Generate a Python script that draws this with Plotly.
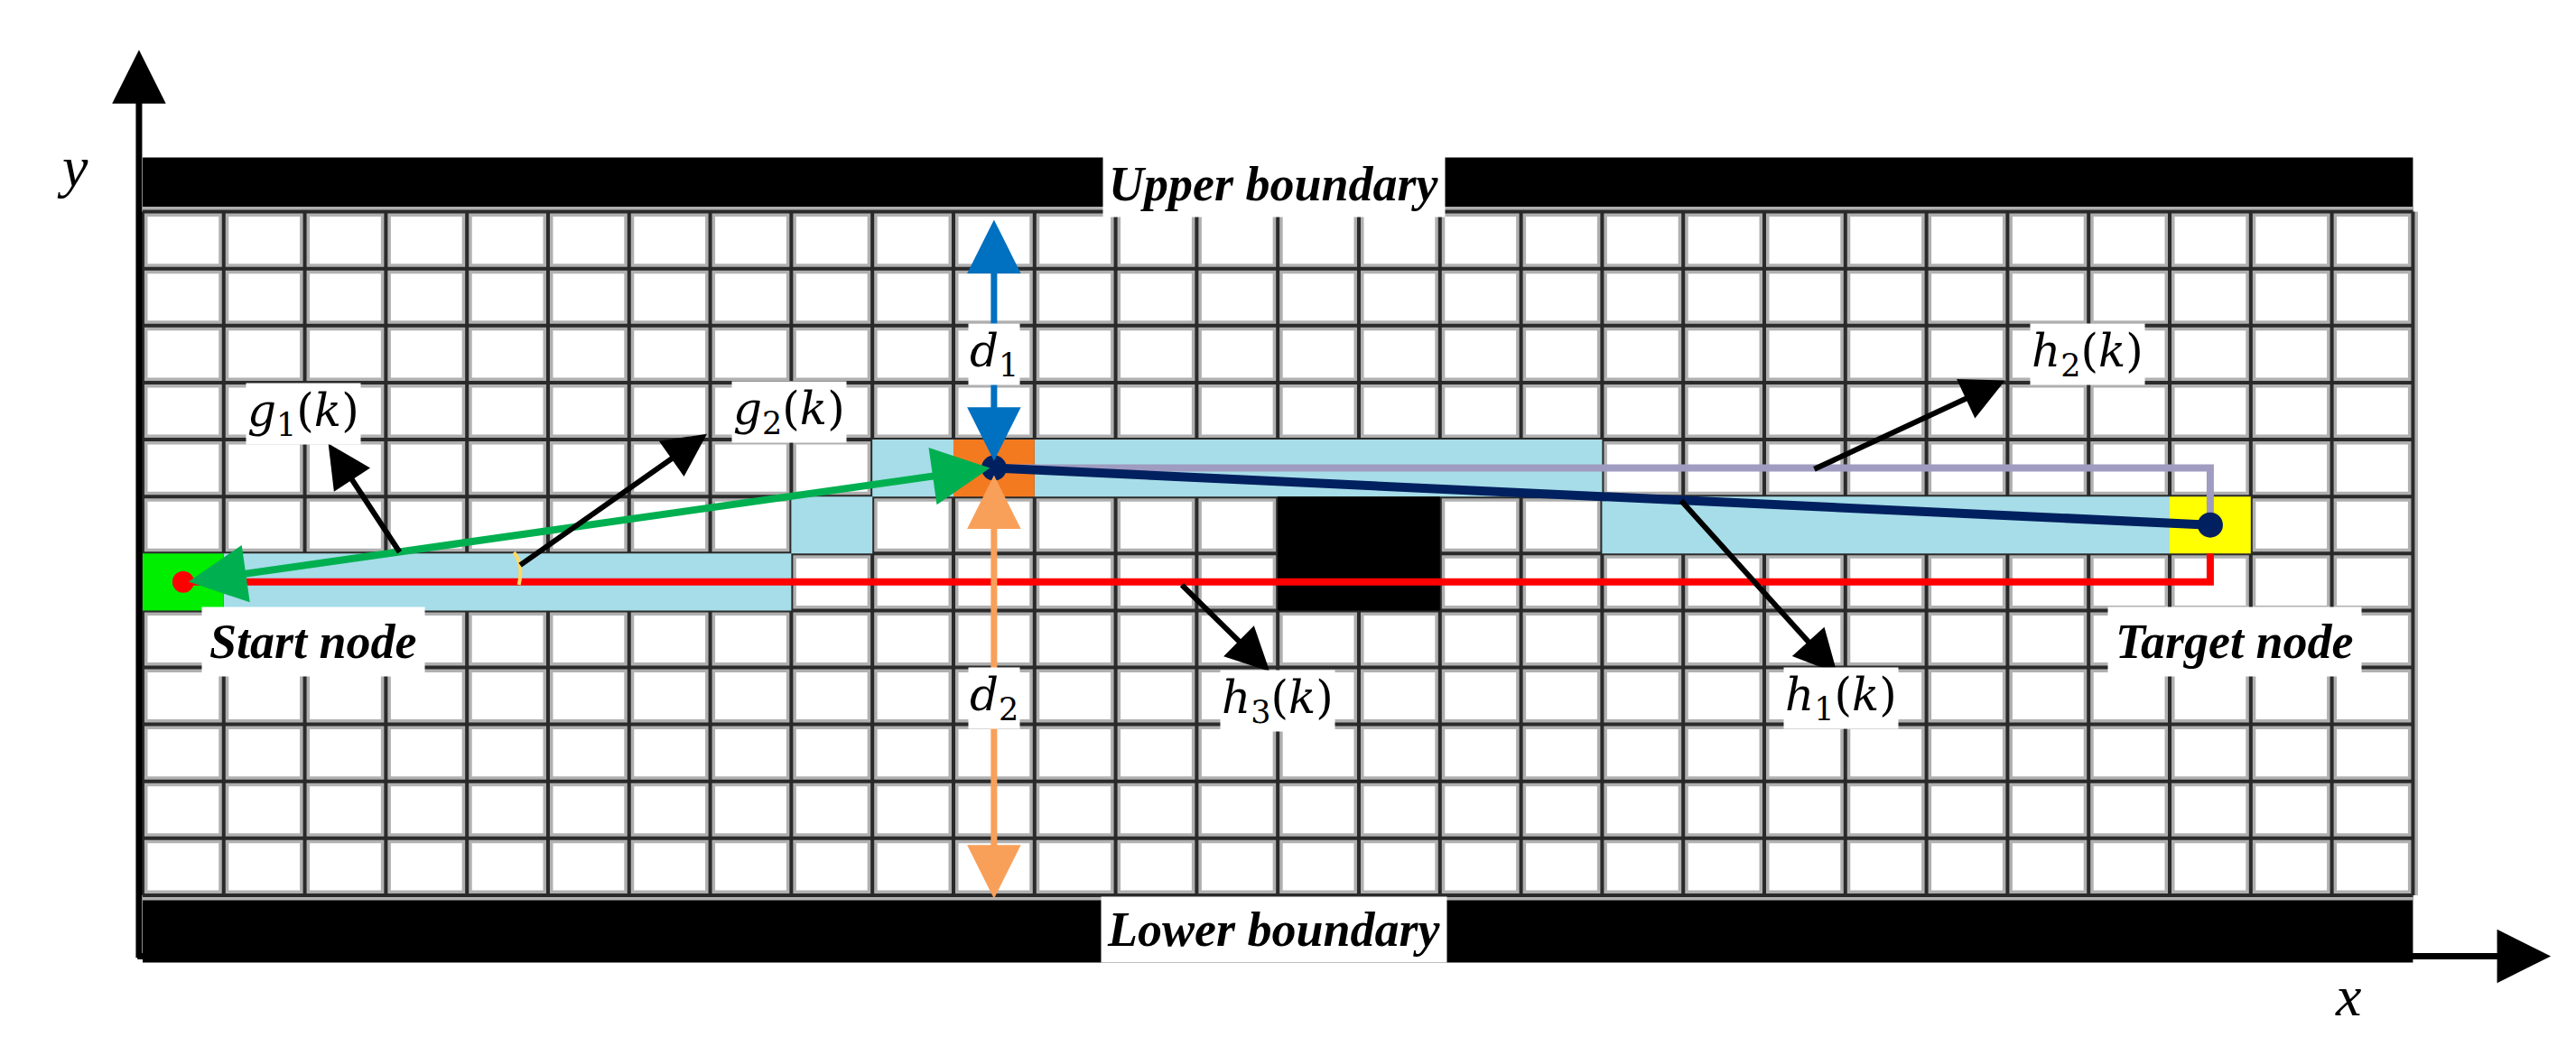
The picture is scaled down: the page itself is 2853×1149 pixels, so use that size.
import plotly.graph_objects as go

# grid size (columns x rows)
n_cols = 28
n_rows = 12

# filled cells: (x0, x1, y0, y1, colour)
cells_x0 = [1, 8, 9, 11, 18, 14, 0, 10, 25]
cells_x1 = [8, 9, 10, 18, 25, 16, 1, 11, 26]
cells_y0 = [5, 6, 7, 7, 6, 5, 5, 7, 6]
cells_y1 = [6, 7, 8, 8, 7, 7, 6, 8, 7]
cells_col = ["#a6dde8"] * 5 + ["#000000", "#00ee00", "#f47a20", "#ffff00"]

# paths
start = (0.5, 5.5)
node = (10.5, 7.5)
target = (25.5, 6.5)
red_x = [0.5, 25.5, 25.5]
red_y = [5.5, 5.5, 6.0]
lav_x = [10.5, 25.5, 25.5]
lav_y = [7.5, 7.5, 6.5]
navy_x = [10.5, 25.5]
navy_y = [7.5, 6.5]

# black label arrows: (tail x, tail y, head x, head y)
arrow_tail_x = [3.18, 4.64, 12.8, 20.6, 18.96]
arrow_tail_y = [6.0, 5.78, 5.47, 7.47, 6.95]
arrow_head_x = [2.29, 6.96, 13.9, 22.97, 20.9]
arrow_head_y = [7.93, 8.1, 3.93, 9.04, 3.89]

# math labels
lab_text = ["<i>g</i><sub>1</sub>(<i>k</i>)", "<i>g</i><sub>2</sub>(<i>k</i>)",
            "<i>h</i><sub>3</sub>(<i>k</i>)", "<i>h</i><sub>2</sub>(<i>k</i>)",
            "<i>h</i><sub>1</sub>(<i>k</i>)", "<i>d</i><sub>1</sub>", "<i>d</i><sub>2</sub>"]
lab_x = [1.98, 7.97, 14.0, 23.99, 20.95, 10.5, 10.5]
lab_y = [8.45, 8.48, 3.42, 9.5, 3.46, 9.5, 3.46]

box_text = ["Start node", "Target node", "Upper boundary", "Lower boundary"]
box_x = [2.1, 25.8, 13.95, 13.95]
box_y = [4.45, 4.45, 12.48, -0.6]
box_pad = [8, 8, 6, 6]

fig = go.Figure()
shapes = []
# boundaries
shapes.append(dict(type="rect", x0=0, x1=n_cols, y0=n_rows, y1=n_rows + 0.95, fillcolor="black", line_width=0, layer="below"))
shapes.append(dict(type="rect", x0=0, x1=n_cols, y0=-1.18, y1=0, fillcolor="black", line_width=0, layer="below"))
# grid
for i in range(n_cols + 1):
    shapes.append(dict(type="line", x0=i, x1=i, y0=0, y1=n_rows, line=dict(color="#b0b0b0", width=11), layer="below"))
for j in range(n_rows + 1):
    shapes.append(dict(type="line", x0=0, x1=n_cols, y0=j, y1=j, line=dict(color="#b0b0b0", width=11), layer="below"))
for i in range(n_cols + 1):
    shapes.append(dict(type="line", x0=i, x1=i, y0=0, y1=n_rows, line=dict(color="#2a2a2a", width=4), layer="below"))
for j in range(n_rows + 1):
    shapes.append(dict(type="line", x0=0, x1=n_cols, y0=j, y1=j, line=dict(color="#2a2a2a", width=4), layer="below"))
# cells
for x0, x1, y0, y1, c in zip(cells_x0, cells_x1, cells_y0, cells_y1, cells_col):
    shapes.append(dict(type="rect", x0=x0, x1=x1, y0=y0, y1=y1, fillcolor=c, line_width=0, layer="below"))
# yellow arc
shapes.append(dict(type="path", path="M 4.58,6.02 Q 4.7,5.8 4.64,5.45", line=dict(color="#ffd966", width=4)))
fig.update_layout(shapes=shapes)

fig.add_trace(go.Scatter(x=red_x, y=red_y, mode="lines", line=dict(color="#ff0000", width=8)))
fig.add_trace(go.Scatter(x=lav_x, y=lav_y, mode="lines", line=dict(color="#a09bc0", width=8)))
fig.add_trace(go.Scatter(x=navy_x, y=navy_y, mode="lines", line=dict(color="#00205f", width=10)))
fig.add_trace(go.Scatter(x=[start[0]], y=[start[1]], mode="markers", marker=dict(color="#ff0000", size=24)))
fig.add_trace(go.Scatter(x=[node[0], target[0]], y=[node[1], target[1]], mode="markers", marker=dict(color="#00205f", size=28)))

ann = []
def arrow(x0, y0, x1, y1, color, width, size, side="end"):
    ann.append(dict(x=x1, y=y1, ax=x0, ay=y0, xref="x", yref="y", axref="x", ayref="y", text="",
                    showarrow=True, arrowhead=2, arrowsize=size, arrowwidth=width, arrowcolor=color, arrowside=side))

arrow(0.55, 5.5, 10.45, 7.5, "#00b050", 8, 1.6, "end+start")
arrow(10.5, 7.6, 10.5, 11.86, "#0070c0", 7, 1.7, "end+start")
arrow(10.5, 7.4, 10.5, -0.06, "#f8a05a", 7, 1.7, "end+start")
for tx, ty, hx, hy in zip(arrow_tail_x, arrow_tail_y, arrow_head_x, arrow_head_y):
    arrow(tx, ty, hx, hy, "black", 6, 1.6)
# axes
arrow(-0.045, -1.12, -0.045, 14.84, "black", 7, 1.7)
arrow(-0.08, -1.07, 29.7, -1.07, "black", 7, 1.7)

for t, x, y in zip(lab_text, lab_x, lab_y):
    ann.append(dict(x=x, y=y, text=t, showarrow=False, bgcolor="white",
                    font=dict(family="DejaVu Serif", size=50, color="black")))
for t, x, y, p in zip(box_text, box_x, box_y, box_pad):
    ann.append(dict(x=x, y=y, text="<b><i>" + t + "</i></b>", showarrow=False, bgcolor="white",
                    borderpad=p, font=dict(family="Liberation Serif", size=54, color="black")))
ann.append(dict(x=-0.86, y=12.8, text="<i>y</i>", showarrow=False, font=dict(family="Liberation Serif", size=64, color="black")))
ann.append(dict(x=27.2, y=-1.76, text="<i>x</i>", showarrow=False, font=dict(family="Liberation Serif", size=64, color="black")))
fig.update_layout(annotations=ann)

fig.update_layout(width=2853, height=1149, margin=dict(l=0, r=0, t=0, b=0),
                  paper_bgcolor="white", plot_bgcolor="white", showlegend=False,
                  xaxis=dict(range=[-1.670, 30.10], visible=False, fixedrange=True),
                  yaxis=dict(range=[-2.615, 15.59], visible=False, fixedrange=True))
fig.write_html("out.html")
